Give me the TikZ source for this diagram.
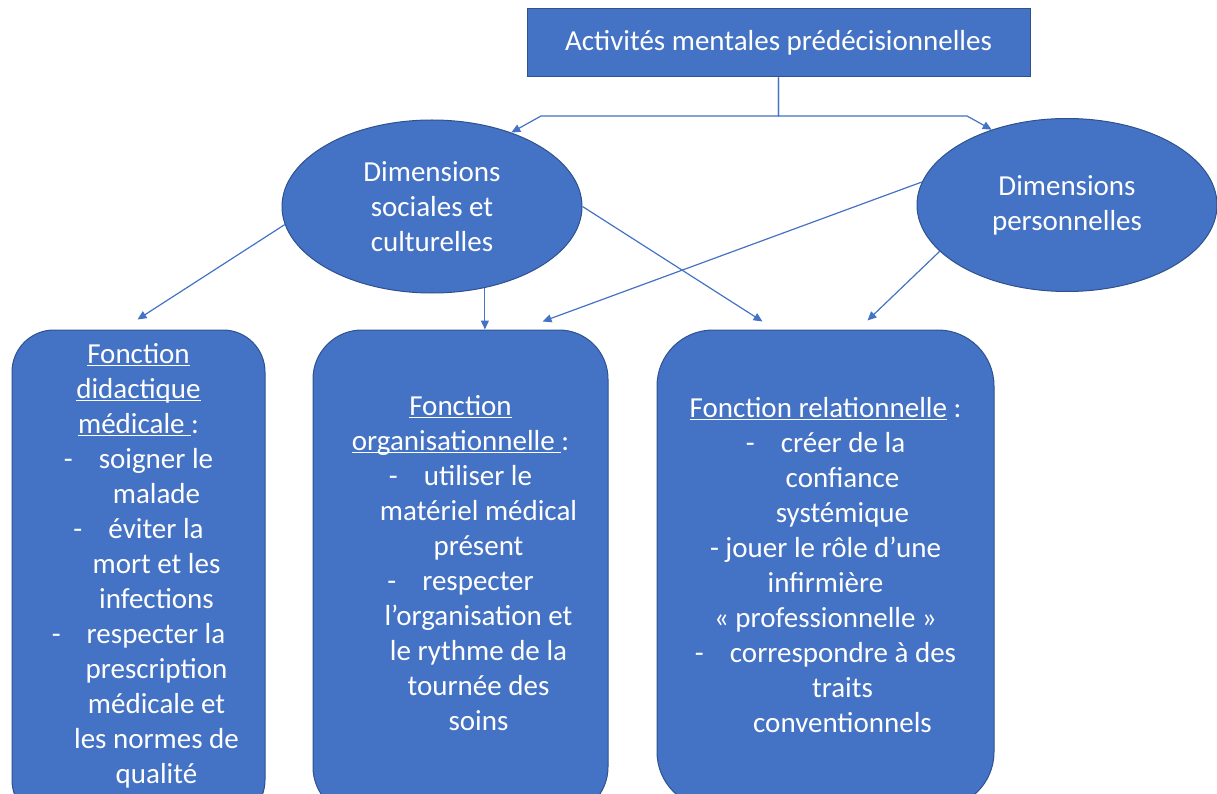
\documentclass[tikz,border=0pt]{standalone}
\usepackage{fontspec}
\setmainfont{Carlito}
\usetikzlibrary{arrows.meta,shapes.geometric}
\definecolor{boxblue}{HTML}{4472C4}
\definecolor{rimblue}{HTML}{2F528F}
\newcommand\ulword[1]{\underline{\smash{#1}}}
\begin{document}
\begin{tikzpicture}[x=1pt,y=-1pt,
		shape box/.style={fill=boxblue,draw=rimblue,line width=1pt,text=white,font=\fontsize{29}{35}\selectfont,align=center,inner sep=0pt},
		oval/.style={shape box,ellipse,minimum width=300pt,minimum height=173pt},
		fonction/.style={shape box,rectangle,minimum height=478pt},
		link/.style={draw=boxblue,line width=1.2pt,-{Triangle[length=9pt,width=8pt]}}]
		\useasboundingbox (0,0) rectangle (1217,794);
		\clip (0,0) rectangle (1217,794);
		
		\node[shape box,minimum width=503pt,minimum height=68pt] (activ) at (778.5,43) {Activités mentales prédécisionnelles};
		\node[oval] (socdim) at (432,206.5) {Dimensions\\sociales et\\culturelles};
		\node[oval] (persdim) at (1067,205) {Dimensions\\personnelles};
		
		\node[fonction,minimum width=253pt,minimum height=492pt,rounded corners=42pt] (didac) at (138.5,576) {\ulword{Fonction}\\ \ulword{didactique}\\ \ulword{médicale\ }:\\ -\hspace{0.9em}soigner le\\ \hspace*{36pt}malade\\ -\hspace{0.9em}éviter la\\ \hspace*{36pt}mort et les\\ \hspace*{36pt}infections\\ -\hspace{0.9em}respecter la\\ \hspace*{36pt}prescription\\ \hspace*{36pt}médicale et\\ \hspace*{36pt}les normes de\\ \hspace*{36pt}qualité};
		\node[fonction,minimum width=295pt,minimum height=486pt,rounded corners=49pt] (orga) at (460.5,573) {\ulword{Fonction}\\ \ulword{organisationnelle\ }:\\ -\hspace{0.9em}utiliser le\\ \hspace*{36pt}matériel médical\\ \hspace*{36pt}présent\\ -\hspace{0.9em}respecter\\ \hspace*{36pt}l’organisation et\\ \hspace*{36pt}le rythme de la\\ \hspace*{36pt}tournée des\\ \hspace*{36pt}soins};
		\node[fonction,minimum width=337pt,rounded corners=56pt] (relat) at (825.5,569) {\ulword{Fonction relationnelle} :\\ -\hspace{0.9em}créer de la\\ \hspace*{34pt}confiance\\ \hspace*{34pt}systémique\\ - jouer le rôle d’une\\ infirmière\\ « professionnelle »\\ -\hspace{0.9em}correspondre à des\\ \hspace*{34pt}traits\\ \hspace*{34pt}conventionnels};
		
		\coordinate (forkL) at (541,116);
		\coordinate (forkR) at (967,116);
		\draw[link] (activ.south) |- (forkL) -- (socdim.43);
		\draw[link] (activ.south) |- (forkR) -- (persdim.135);
		
		\draw[link] (socdim.187) -- ([shift={(-1,-10)}]didac.north);
		\draw[link] (socdim.-57) -- (socdim.-57 |- orga.north);
		\draw[link] (socdim.east) -- ([shift={(-63,-8)}]relat.north);
		\draw[link] (persdim.171) -- ([shift={(82,-8)}]orga.north);
		\draw[link] (persdim.200) -- ([shift={(42,-9)}]relat.north);
		
	\end{tikzpicture}
\end{document}
